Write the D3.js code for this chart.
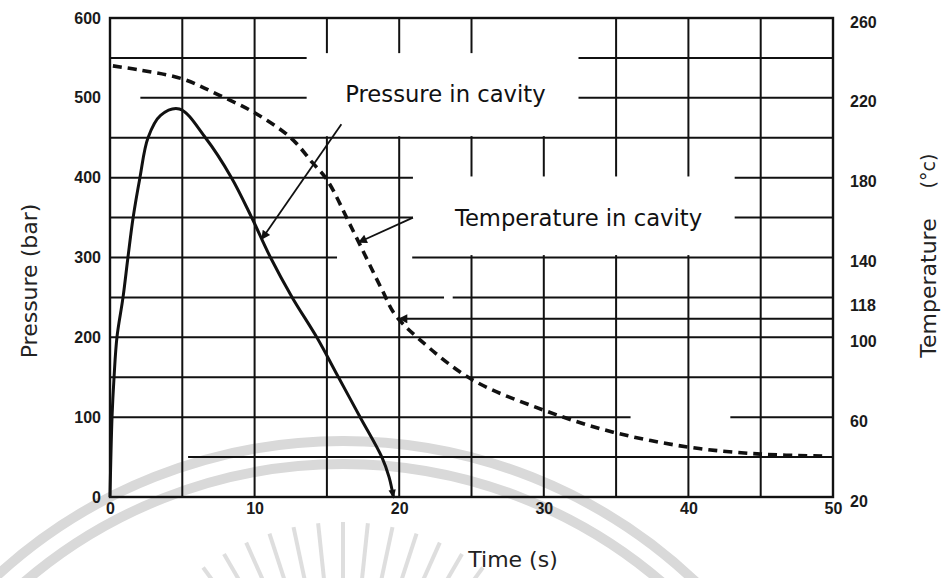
<!DOCTYPE html>
<html>
<head>
<meta charset="utf-8">
<script src="https://cdn.jsdelivr.net/npm/d3@7"></script>
<style>
  html, body { margin: 0; padding: 0; background: #fff; }
  svg { display: block; }
</style>
</head>
<body>
<div id="chart"></div>
<script>
// Pressure in cavity (bar) vs time (s)
const timeP = [0, 0.14, 0.28, 0.48, 0.9, 1.24, 1.6, 2.07, 2.63, 3.5, 4.8, 6.6, 8.4, 9.8, 11.1, 12.6, 14.3, 15.8, 17.3, 18.8, 19.3, 19.6];
const pressure = [0, 100, 150, 200, 250, 300, 350, 400, 450, 478, 486, 450, 400, 350, 300, 250, 200, 150, 100, 50, 25, 0];

// Temperature in cavity (°C) vs time (s)
const timeT = [0.2, 2, 5, 7.5, 10, 12.5, 14, 15, 16.7, 18.8, 19.7, 21.4, 25, 30, 34.8, 40, 45, 49.4];
const temperature = [236, 234, 229.5, 221.5, 212.5, 200, 187.5, 179, 155, 124, 111.5, 99, 79, 63.5, 52.5, 45, 41.5, 40.5];

const timeTicks = [0, 10, 20, 30, 40, 50];
const pressureTicks = [0, 100, 200, 300, 400, 500, 600];
const temperatureTicks = [260, 220, 180, 140, 118, 100, 60, 20];
const gridTimes = [5, 10, 15, 20, 25, 30, 35, 40, 45];
const gridPressures = [50, 100, 150, 200, 250, 300, 350, 400, 450, 500, 550];

const labels = ["Pressure in cavity", "Temperature in cavity"];

renderChart();

function renderChart() {
  const W = 946, H = 578;
  const svg = d3.select("#chart").append("svg")
    .attr("width", W).attr("height", H);

  const x = d3.scaleLinear().domain([0, 50]).range([110, 833]);
  const yP = d3.scaleLinear().domain([0, 600]).range([497, 18]);
  const yT = d3.scaleLinear().domain([20, 260]).range([497, 18]);

  // faint watermark of the scanned page
  const wm = svg.append("g").attr("fill", "none").attr("stroke", "#d9d9d9");
  [512, 489].forEach(r => {
    wm.append("circle").attr("cx", 343).attr("cy", 953).attr("r", r).attr("stroke-width", 10);
  });
  d3.range(-48, 49, 6).forEach(a => {
    const rad = a * Math.PI / 180;
    wm.append("line")
      .attr("x1", 343 + 130 * Math.sin(rad)).attr("y1", 760 - 130 * Math.cos(rad))
      .attr("x2", 343 + 238 * Math.sin(rad)).attr("y2", 760 - 238 * Math.cos(rad))
      .attr("stroke", "#dedede").attr("stroke-width", 4);
  });

  // grid, broken where the labels sit (data units)
  const blankBoxes = [
    { t0: 13.6, t1: 32.4, p0: 452, p1: 556 },
    { t0: 20.95, t1: 43.2, p0: 303, p1: 401.5 }
  ];
  const hGaps = [
    { p: 50, t0: 0, t1: 5.4 },
    { p: 500, t0: 0, t1: 2.1 },
    { p: 100, t0: 36, t1: 42.9 },
    { p: 300, t0: 15.7, t1: 20.9 },
    { p: 250, t0: 23.1, t1: 23.7 }
  ];
  const vGaps = [{ t: 30, p0: 556, p1: 600 }];

  const grid = svg.append("g").attr("stroke", "#111").attr("stroke-width", 2);

  gridPressures.forEach(p => {
    const holes = blankBoxes.filter(b => p >= b.p0 && p <= b.p1).map(b => [b.t0, b.t1])
      .concat(hGaps.filter(g => g.p === p).map(g => [g.t0, g.t1]));
    cut(0, 50, holes).forEach(([a, b]) => {
      grid.append("line").attr("x1", x(a)).attr("x2", x(b)).attr("y1", yP(p)).attr("y2", yP(p));
    });
  });
  gridTimes.forEach(t => {
    const holes = blankBoxes.filter(b => t >= b.t0 && t <= b.t1).map(b => [b.p0, b.p1])
      .concat(vGaps.filter(g => g.t === t).map(g => [g.p0, g.p1]));
    cut(0, 600, holes).forEach(([a, b]) => {
      grid.append("line").attr("x1", x(t)).attr("x2", x(t)).attr("y1", yP(a)).attr("y2", yP(b));
    });
  });

  svg.append("rect")
    .attr("x", x(0)).attr("y", yP(600))
    .attr("width", x(50) - x(0)).attr("height", yP(0) - yP(600))
    .attr("fill", "none").attr("stroke", "#111").attr("stroke-width", 2.4);

  // markers
  const defs = svg.append("defs");
  defs.append("marker").attr("id", "arrow")
    .attr("viewBox", "0 0 10 10").attr("refX", 9).attr("refY", 5)
    .attr("markerUnits", "userSpaceOnUse").attr("markerWidth", 13).attr("markerHeight", 9)
    .attr("orient", "auto")
    .append("path").attr("d", "M0,0L10,5L0,10z").attr("fill", "#111");
  defs.append("marker").attr("id", "arrowEnd")
    .attr("viewBox", "0 0 10 10").attr("refX", 8).attr("refY", 5)
    .attr("markerUnits", "userSpaceOnUse").attr("markerWidth", 16).attr("markerHeight", 9)
    .attr("orient", "auto")
    .append("path").attr("d", "M0,1L10,5L0,9z").attr("fill", "#111");

  // curves
  const pData = timeP.map((t, i) => [t, pressure[i]]);
  const tData = timeT.map((t, i) => [t, temperature[i]]);

  svg.append("path")
    .datum(tData)
    .attr("d", d3.line().x(d => x(d[0])).y(d => yT(d[1])).curve(d3.curveCatmullRom))
    .attr("fill", "none").attr("stroke", "#111")
    .attr("stroke-width", 3.6).attr("stroke-dasharray", "9 6");

  svg.append("path")
    .datum(pData)
    .attr("d", d3.line().x(d => x(d[0])).y(d => yP(d[1])).curve(d3.curveCatmullRom))
    .attr("fill", "none").attr("stroke", "#111").attr("stroke-width", 3)
    .attr("marker-end", "url(#arrowEnd)");

  // annotation arrows
  const notes = svg.append("g").attr("stroke", "#111").attr("stroke-width", 1.8);
  const pTip = 10.5;
  notes.append("line")
    .attr("x1", x(16.0)).attr("y1", yP(467))
    .attr("x2", x(pTip)).attr("y2", yP(interp(timeP, pressure, pTip)))
    .attr("marker-end", "url(#arrow)");
  const tTip = 17.2;
  notes.append("line")
    .attr("x1", x(20.95)).attr("y1", yT(160))
    .attr("x2", x(tTip)).attr("y2", yT(interp(timeT, temperature, tTip)))
    .attr("marker-end", "url(#arrow)");
  // horizontal marker from the right edge to the curve at t = 20 s
  const markTime = 20;
  const markTemp = interp(timeT, temperature, markTime);
  notes.append("line")
    .attr("stroke-width", 2)
    .attr("x1", x(50)).attr("y1", yT(markTemp))
    .attr("x2", x(markTime)).attr("y2", yT(markTemp))
    .attr("marker-end", "url(#arrow)");

  // labels
  const font = "'DejaVu Sans', Verdana, sans-serif";
  svg.append("text")
    .attr("x", x(23.2)).attr("y", yP(505))
    .attr("text-anchor", "middle").attr("dominant-baseline", "central")
    .style("font-family", font).style("font-size", "22.7px").style("fill", "#111")
    .text(labels[0]);
  svg.append("text")
    .attr("x", x(32.4)).attr("y", yP(350))
    .attr("text-anchor", "middle").attr("dominant-baseline", "central")
    .style("font-family", font).style("font-size", "22.7px").style("fill", "#111")
    .text(labels[1]);

  // axes
  const tickStyle = g => {
    g.select(".domain").remove();
    g.selectAll("text")
      .style("font-family", "'Liberation Sans', Arial, sans-serif")
      .style("font-size", "16px").style("font-weight", "bold").style("fill", "#1a1a1a");
  };
  svg.append("g").attr("transform", `translate(${x(0)},0)`)
    .call(d3.axisLeft(yP).tickValues(pressureTicks).tickSize(0).tickPadding(9))
    .call(tickStyle);
  svg.append("g").attr("transform", `translate(0,${yP(0)})`)
    .call(d3.axisBottom(x).tickValues(timeTicks).tickSize(0).tickPadding(6))
    .call(tickStyle);
  svg.append("g").attr("transform", `translate(${x(50)},0)`)
    .call(d3.axisRight(yT).tickValues(temperatureTicks).tickSize(0).tickPadding(17))
    .call(tickStyle)
    .call(g => g.selectAll("text").attr("dy", "0.57em"));

  // axis titles
  const title = (tx, ty, rot, txt, size) => svg.append("text")
    .attr("transform", `translate(${tx},${ty}) rotate(${rot})`)
    .attr("text-anchor", "middle").attr("dominant-baseline", "central")
    .style("font-family", font).style("font-size", size + "px").style("fill", "#222")
    .text(txt);
  title(29, 281, -90, "Pressure (bar)", 22);
  title(513, 559, 0, "Time (s)", 22);
  title(928, 288, -90, "Temperature", 22);
  title(928, 171, -90, "(\u00b0c)", 19);
}

function cut(lo, hi, holes) {
  let segs = [[lo, hi]];
  holes.forEach(([a, b]) => {
    segs = segs.flatMap(([s, e]) => {
      if (b <= s || a >= e) return [[s, e]];
      const out = [];
      if (a > s) out.push([s, a]);
      if (b < e) out.push([b, e]);
      return out;
    });
  });
  return segs;
}

function interp(xs, ys, t) {
  const i = Math.min(Math.max(d3.bisectRight(xs, t), 1), xs.length - 1);
  const f = (t - xs[i - 1]) / (xs[i] - xs[i - 1]);
  return ys[i - 1] + f * (ys[i] - ys[i - 1]);
}
</script>
</body>
</html>
